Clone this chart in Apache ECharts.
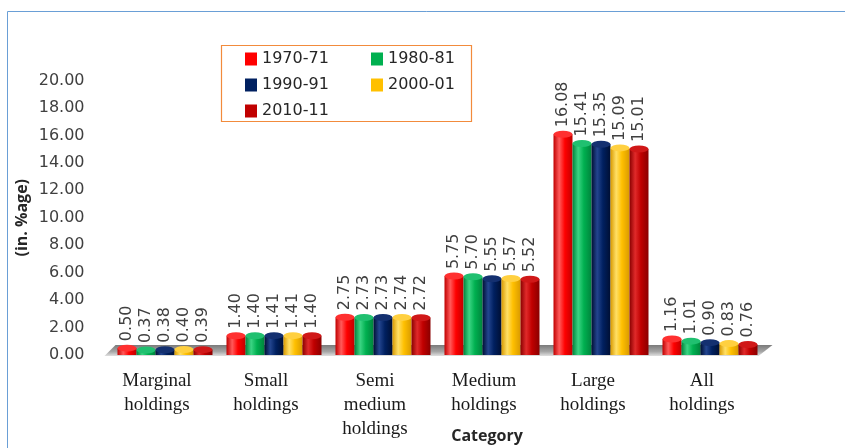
<!DOCTYPE html>
<html>
<head>
<meta charset="utf-8">
<script src="https://cdn.jsdelivr.net/npm/echarts@6/dist/echarts.min.js"></script>
<style>
html,body{margin:0;padding:0;background:#fff;}
#chart{width:845px;height:448px;}
</style>
</head>
<body>
<div id="chart"></div>
<script>
// ---- data ----
var categories = ['Marginal\nholdings', 'Small\nholdings', 'Semi\nmedium\nholdings', 'Medium\nholdings', 'Large\nholdings', 'All\nholdings'];
var seriesNames = ['1970-71', '1980-81', '1990-91', '2000-01', '2010-11'];
var v1970 = [0.50, 1.40, 2.75, 5.75, 16.08, 1.16];
var v1980 = [0.37, 1.40, 2.73, 5.70, 15.41, 1.01];
var v1990 = [0.38, 1.41, 2.73, 5.55, 15.35, 0.90];
var v2000 = [0.40, 1.41, 2.74, 5.57, 15.09, 0.83];
var v2010 = [0.39, 1.40, 2.72, 5.52, 15.01, 0.76];
var yMin = 0, yMax = 20, yStep = 2;

var values = [v1970, v1980, v1990, v2000, v2010];
var baseColors = ['#ff0000', '#00b050', '#002060', '#ffc000', '#c00000'];
var edgeColors = ['#c00000', '#00843c', '#000f33', '#d99a00', '#8a0000'];
var lightColors = ['#ff5a5a', '#3bd483', '#23458f', '#ffdf66', '#e02a2a'];
var capColors = ['#ff3030', '#20c070', '#143070', '#ffd040', '#d01818'];

var GRID_L = 110.5, GRID_R = 80.5, GRID_T = 80.5, GRID_B = 93;
var BW = 19;

function cyl(i) {
  return new echarts.graphic.LinearGradient(0, 0, 1, 0, [
    {offset: 0, color: edgeColors[i]},
    {offset: 0.3, color: lightColors[i]},
    {offset: 0.6, color: baseColors[i]},
    {offset: 1, color: edgeColors[i]}
  ]);
}

var series = [];
for (var i = 0; i < values.length; i++) {
  series.push({
    name: seriesNames[i],
    type: 'bar',
    data: values[i],
    barWidth: BW,
    barGap: '0%',
    z: 3,
    itemStyle: {color: cyl(i)},
    label: {
      show: true,
      position: 'top',
      rotate: 90,
      align: 'left',
      verticalAlign: 'middle',
      distance: 7,
      formatter: function (p) { return p.value.toFixed(2); },
      fontFamily: 'DejaVu Sans',
      fontSize: 16,
      color: '#404040'
    }
  });
}
for (var j = 0; j < values.length; j++) {
  series.push({
    name: seriesNames[j],
    type: 'pictorialBar',
    data: values[j],
    symbol: 'circle',
    symbolSize: [BW, 7],
    symbolPosition: 'end',
    symbolOffset: [0, '-50%'],
    barWidth: BW,
    barGap: '0%',
    z: 4,
    itemStyle: {color: capColors[j]},
    silent: true
  });
}

var chart = echarts.init(document.getElementById('chart'));
chart.setOption({
  animation: false,
  backgroundColor: '#ffffff',
  grid: {left: GRID_L, right: GRID_R, top: GRID_T, bottom: GRID_B, containLabel: false, outerBoundsMode: 'none'},
  legend: {
    left: 245, top: 51, width: 260, padding: 0,
    itemWidth: 12, itemHeight: 13, itemGap: 10,
    icon: 'rect',
    textStyle: {fontFamily: 'DejaVu Sans', fontSize: 16, color: '#262626', width: 99, lineHeight: 14},
    data: seriesNames.map(function (n, k) { return {name: n, itemStyle: {color: baseColors[k]}}; })
  },
  xAxis: {
    type: 'category',
    data: categories,
    axisLine: {show: false},
    axisTick: {show: false},
    axisLabel: {
      interval: 0,
      margin: 14,
      fontFamily: 'Liberation Serif',
      fontSize: 19,
      lineHeight: 24,
      color: '#1a1a1a',
      padding: [0, 16, 0, 0]
    },
    name: 'Category',
    nameLocation: 'middle',
    nameGap: 73,
    nameMoveOverlap: false,
    nameTextStyle: {fontFamily: 'Open Sans', fontWeight: 'bold', fontSize: 16, color: '#262626', padding: [0, 0, 0, 99]}
  },
  yAxis: {
    type: 'value',
    min: yMin, max: yMax, interval: yStep,
    axisLine: {show: false},
    axisTick: {show: false},
    splitLine: {show: false},
    axisLabel: {
      margin: 26,
      fontFamily: 'DejaVu Sans',
      fontSize: 16,
      color: '#404040',
      formatter: function (v) { return v.toFixed(2); }
    },
    name: '(in. %age)',
    nameLocation: 'middle',
    nameGap: 80,
    nameMoveOverlap: false,
    nameTextStyle: {fontFamily: 'Open Sans', fontWeight: 'bold', fontSize: 16, color: '#262626'}
  },
  series: series
});

// decorations: frame, legend box, 3D floor (floor placed from the axis scale)
var y0 = chart.convertToPixel({yAxisIndex: 0}, 0);
var x0 = GRID_L, x1 = 845 - GRID_R;
chart.setOption({
  graphic: [
    {type: 'rect', shape: {x: 7.5, y: 11.5, width: 900, height: 500}, style: {fill: 'none', stroke: '#6a9fd6', lineWidth: 1}, z: 0, silent: true},
    {type: 'rect', shape: {x: 221.5, y: 45.5, width: 250, height: 76}, style: {fill: 'none', stroke: '#f28b3c', lineWidth: 1.2}, z: 0, silent: true},
    {type: 'polygon', z: 1, silent: true,
      shape: {points: [[x0 - 6, y0 + 1], [x0 + 5, y0 - 10], [x1 + 8, y0 - 10], [x1 - 6, y0 + 1]]},
      style: {fill: new echarts.graphic.LinearGradient(0, 0, 0, 1, [
        {offset: 0, color: '#7a7a7a'}, {offset: 0.6, color: '#a6a6a6'}, {offset: 1, color: '#e0e0e0'}])}
    }
  ]
});
</script>
</body>
</html>
